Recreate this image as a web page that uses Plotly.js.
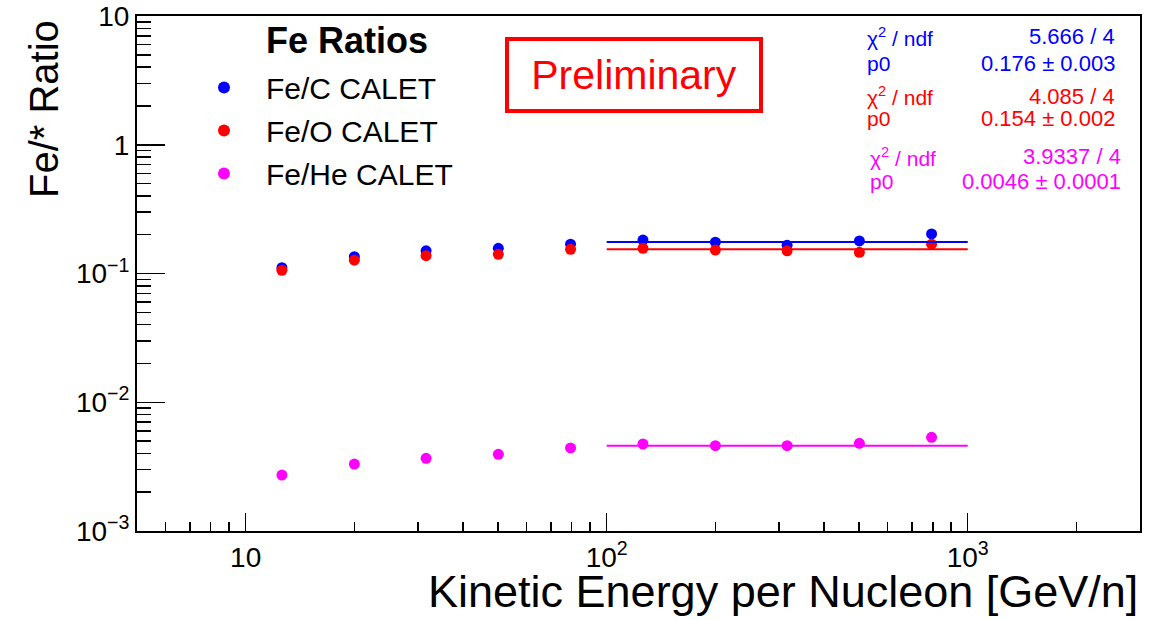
<!DOCTYPE html>
<html>
<head>
<meta charset="utf-8">
<script src="https://cdn.plot.ly/plotly-3.0.1.min.js"></script>
<style>
  html, body { margin: 0; padding: 0; background: #ffffff; }
  #chart { width: 1166px; height: 620px; }
</style>
</head>
<body>
<div id="chart"></div>
<script>
// ---------- data ----------
var energy = [12.6, 20.0, 31.6, 50.1, 79.4, 126, 200, 316, 501, 794];
var feC  = [0.111, 0.135, 0.150, 0.157, 0.169, 0.182, 0.175, 0.166, 0.179, 0.203];
var feCerr = [0.002, 0.002, 0.003, 0.003, 0.004, 0.005, 0.005, 0.006, 0.008, 0.011];
var feO  = [0.106, 0.127, 0.1375, 0.141, 0.154, 0.157, 0.152, 0.150, 0.146, 0.169];
var feOerr = [0.002, 0.002, 0.002, 0.003, 0.003, 0.004, 0.004, 0.005, 0.006, 0.009];
var feHe = [0.00272, 0.00331, 0.00367, 0.00394, 0.00442, 0.00474, 0.00460, 0.00460, 0.00480, 0.00534];
var feHeErr = [0.00005, 0.00005, 0.00006, 0.00006, 0.00007, 0.00008, 0.00009, 0.0001, 0.00012, 0.00016];

var seriesNames = ['Fe/C CALET', 'Fe/O CALET', 'Fe/He CALET'];
var legendTitle = 'Fe Ratios';
var fitRange = [100, 1000];
var fitP0 = [0.176, 0.154, 0.0046];
var fitChi2 = ['5.666 / 4', '4.085 / 4', '3.9337 / 4'];
var fitP0Text = ['0.176 \u00b1 0.003', '0.154 \u00b1 0.002', '0.0046 \u00b1 0.0001'];

var yTickVals = [0.001, 0.01, 0.1, 1, 10];
var yTickText = ['10<sup>\u22123</sup>', '10<sup>\u22122</sup>', '10<sup>\u22121</sup>', '1', '10'];
var xTickVals = [10, 100, 1000];
var xTickText = ['10', '10<sup>2</sup>', '10<sup>3</sup>'];

var colors = ['#0000ff', '#ff0000', '#ff00ff'];

// ---------- geometry helpers (layout only) ----------
var L = 137, R = 1140, T = 16, B = 531;
function px(x) { return (x - L) / (R - L); }
function py(y) { return (B - y) / (B - T); }

function minorVals(lo, hi) {
  var v = [];
  for (var e = lo; e < hi; e++) {
    for (var m = 2; m <= 9; m++) v.push(m * Math.pow(10, e));
  }
  return v;
}

var font = 'Liberation Sans, Arial, Helvetica, sans-serif';
var ys = [feC, feO, feHe];
var errs = [feCerr, feOerr, feHeErr];

var traces = [];
for (var i = 0; i < 3; i++) {
  traces.push({
    type: 'scatter', mode: 'markers',
    x: energy, y: ys[i], name: seriesNames[i], legendgroup: 'g' + i,
    marker: { color: colors[i], size: 11, symbol: 'circle' },
    error_y: { type: 'data', array: errs[i], visible: true, color: colors[i], thickness: 1.5, width: 0 },
    showlegend: true
  });
}
for (var j = 0; j < 3; j++) {
  traces.push({
    type: 'scatter', mode: 'lines',
    x: fitRange, y: [fitP0[j], fitP0[j]], legendgroup: 'g' + j,
    line: { color: colors[j], width: 2 },
    showlegend: false, hoverinfo: 'skip'
  });
}

var annotations = [];
// axis titles
annotations.push({
  xref: 'paper', yref: 'paper', x: 1, y: py(591), xanchor: 'right', yanchor: 'middle',
  text: 'Kinetic Energy per Nucleon [GeV/n]', showarrow: false,
  font: { family: font, size: 45, color: '#000' }
});
annotations.push({
  xref: 'paper', yref: 'paper', x: px(44), y: py(18), xanchor: 'center', yanchor: 'top',
  text: 'Fe/* Ratio', textangle: -90, showarrow: false,
  font: { family: font, size: 40, color: '#000' }
});
// legend header
annotations.push({
  xref: 'paper', yref: 'paper', x: px(264), y: py(41), xanchor: 'left', yanchor: 'middle',
  text: '<b>' + legendTitle + '</b>', showarrow: false,
  font: { family: font, size: 36, color: '#000' }
});
// Preliminary box
annotations.push({
  xref: 'paper', yref: 'paper', x: px(634), y: py(75), xanchor: 'center', yanchor: 'middle',
  text: 'Preliminary', showarrow: false,
  font: { family: font, size: 41, color: '#ff0000' },
  bordercolor: '#ff0000', borderwidth: 4, borderpad: 2,
  width: 246, height: 64, bgcolor: 'rgba(255,255,255,0)'
});
// fit statistics
var rowY = [[37, 63], [96, 119], [157, 182]];
var leftX = [865, 865, 868];
var rightX = [1117, 1117, 1123];
for (var k = 0; k < 3; k++) {
  annotations.push({
    xref: 'paper', yref: 'paper', x: px(leftX[k]), y: py(rowY[k][0]), xanchor: 'left', yanchor: 'middle',
    text: '\u03c7<sup>2</sup> / ndf', showarrow: false, font: { family: font, size: 21, color: colors[k] }
  });
  annotations.push({
    xref: 'paper', yref: 'paper', x: px(leftX[k]), y: py(rowY[k][1]), xanchor: 'left', yanchor: 'middle',
    text: 'p0', showarrow: false, font: { family: font, size: 21, color: colors[k] }
  });
  annotations.push({
    xref: 'paper', yref: 'paper', x: px(rightX[k]), y: py(rowY[k][0]), xanchor: 'right', yanchor: 'middle',
    text: fitChi2[k], showarrow: false, font: { family: font, size: 22, color: colors[k] }
  });
  annotations.push({
    xref: 'paper', yref: 'paper', x: px(rightX[k]), y: py(rowY[k][1]), xanchor: 'right', yanchor: 'middle',
    text: fitP0Text[k], showarrow: false, font: { family: font, size: 22, color: colors[k] }
  });
}

var layout = {
  width: 1166, height: 620,
  margin: { l: L, r: 1166 - R, t: T, b: 620 - B, pad: 0 },
  paper_bgcolor: '#ffffff', plot_bgcolor: '#ffffff',
  showlegend: true,
  legend: {
    x: px(182), y: py(61.5), xanchor: 'left', yanchor: 'top',
    bgcolor: 'rgba(255,255,255,0)', borderwidth: 0,
    font: { family: font, size: 30, color: '#000' },
    itemwidth: 74, tracegroupgap: 1,
    itemsizing: 'constant'
  },
  xaxis: {
    type: 'log', range: [Math.log10(5), Math.log10(3000)],
    showgrid: false, zeroline: false,
    showline: true, linecolor: '#000', linewidth: 2, mirror: true,
    ticks: 'inside', ticklen: 18, tickwidth: 1.5, tickcolor: '#000',
    tickmode: 'array', tickvals: xTickVals, ticktext: xTickText,
    tickfont: { family: font, size: 28, color: '#000' },
    minor: { tickmode: 'array', tickvals: minorVals(0, 4), ticks: 'inside', ticklen: 9, tickwidth: 1.5, tickcolor: '#000', showgrid: false }
  },
  yaxis: {
    type: 'log', range: [-3, 1],
    showgrid: false, zeroline: false,
    showline: true, linecolor: '#000', linewidth: 2, mirror: true,
    ticks: 'inside', ticklen: 28, tickwidth: 1.5, tickcolor: '#000',
    tickmode: 'array', tickvals: yTickVals, ticktext: yTickText,
    tickfont: { family: font, size: 28, color: '#000' },
    minor: { tickmode: 'array', tickvals: minorVals(-3, 1), ticks: 'inside', ticklen: 14, tickwidth: 1.5, tickcolor: '#000', showgrid: false }
  },
  annotations: annotations
};

Plotly.newPlot('chart', traces, layout, { staticPlot: true, displayModeBar: false });
</script>
</body>
</html>
